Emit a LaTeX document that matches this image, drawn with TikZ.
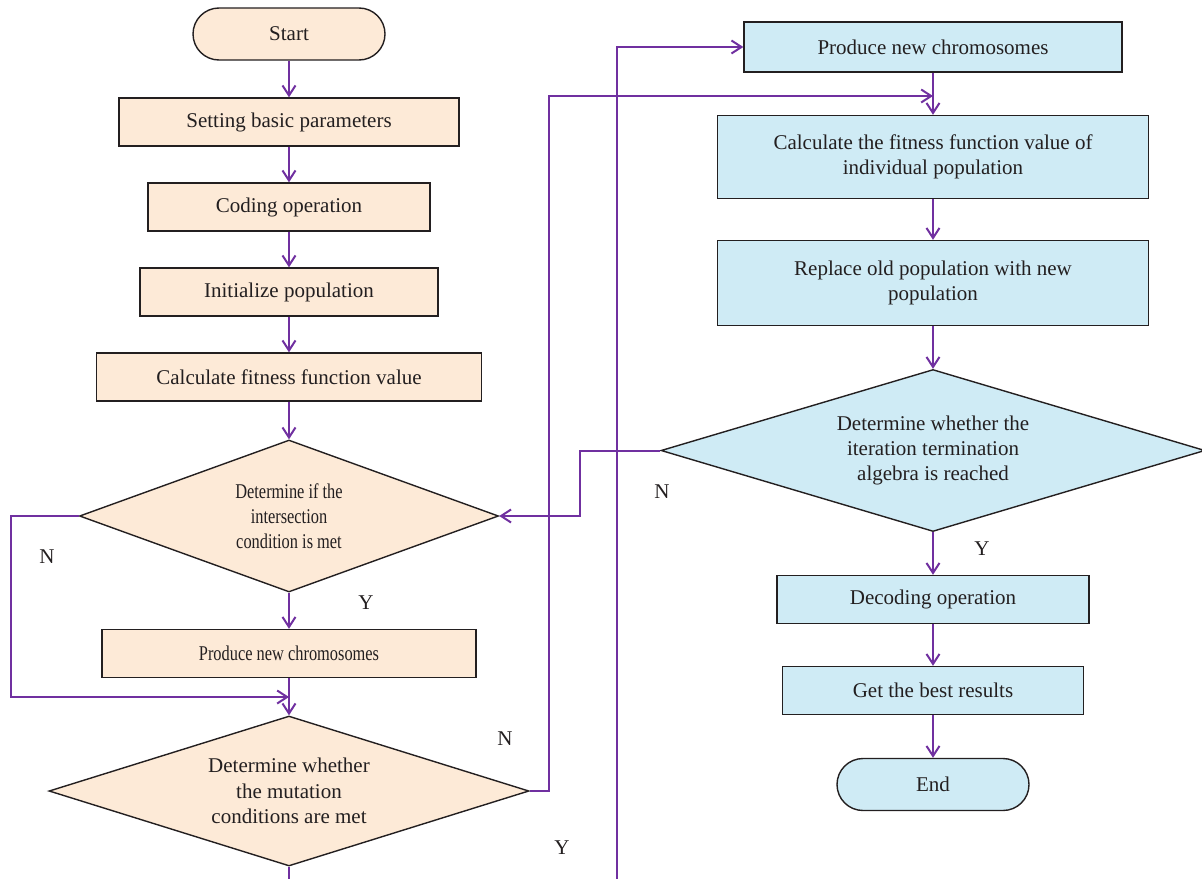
\documentclass[tikz,border=0pt]{standalone}
\usepackage{fontspec}
\setmainfont{Liberation Serif}
\usepackage{xcolor}
\usetikzlibrary{
    shapes.geometric,
    arrows.meta,
    positioning,
    calc
}
\definecolor{flowline}{HTML}{7030A0}
\definecolor{peach}{HTML}{FDEAD7}
\definecolor{skyfill}{HTML}{CFEBF5}
\definecolor{inkgray}{HTML}{231F20}
\newcommand{\narrow}[1]{\scalebox{0.78}[1]{#1}}

\begin{document}
\begin{tikzpicture}[x=0.5pt, y=-0.5pt,
    every node/.style={font=\fontsize{10.5}{12.6}\selectfont, text=inkgray},
    procbox/.style={draw=inkgray, line width=0.7pt, minimum height=24pt, inner sep=0pt},
    termbox/.style={draw=inkgray, line width=0.7pt, rounded corners=13pt, minimum width=96pt, minimum height=26pt},
    decbox/.style={draw=inkgray, line width=0.7pt, diamond, inner sep=0pt, align=center},
    flow/.style={draw=flowline, line width=1pt, -{Straight Barb[length=5pt,width=6.5pt]}},
    yn/.style={font=\fontsize{10.5}{12.6}\selectfont}
]
    \clip (0,0) rectangle (1202,878);

    % Left column
    \node[termbox, fill=peach] (start) at (289,34) {Start};
    \node[procbox, fill=peach, minimum width=170pt] (params) at (289,122) {Setting basic parameters};
    \node[procbox, fill=peach, minimum width=141pt] (coding) at (289,207) {Coding operation};
    \node[procbox, fill=peach, minimum width=149pt] (init) at (289,292) {Initialize population};
    \node[procbox, fill=peach, minimum width=192.5pt] (fitness) at (289,377) {Calculate fitness function value};
    \node[decbox, fill=peach, aspect=2.76, minimum width=209.5pt, minimum height=76pt] (cross) at (289,516)
        {\narrow{Determine if the}\\\narrow{intersection}\\\narrow{condition is met}};
    \node[procbox, fill=peach, minimum width=187pt] (newchromL) at (289,653.5) {\narrow{Produce new chromosomes}};
    \node[decbox, fill=peach, aspect=3.2, minimum width=240pt, minimum height=75pt] (mutate) at (289,791)
        {Determine whether\\the mutation\\conditions are met};

    % Right column
    \node[procbox, fill=skyfill, minimum width=189pt, minimum height=25pt] (newchromR) at (933,47) {Produce new chromosomes};
    \node[procbox, fill=skyfill, minimum width=215.5pt, minimum height=41.5pt, align=center] (fitindiv) at (933,157)
        {Calculate the fitness function value of\\individual population};
    \node[procbox, fill=skyfill, minimum width=215.5pt, minimum height=42.5pt, align=center] (replace) at (933,283)
        {Replace old population with new\\population};
    \node[decbox, fill=skyfill, aspect=3.36, minimum width=272pt, minimum height=81pt] (iterate) at (933,450.5)
        {Determine whether the\\iteration termination\\algebra is reached};
    \node[procbox, fill=skyfill, minimum width=156pt] (decode) at (933,599.5) {Decoding operation};
    \node[procbox, fill=skyfill, minimum width=150.5pt] (best) at (933,690.5) {Get the best results};
    \node[termbox, fill=skyfill] (stop) at (933,784.5) {End};

    % Merge points
    \coordinate (mergeL) at (289,697);
    \coordinate (mergeR) at (933,96);
    \coordinate (loopbot) at (617,910);

    % Straight flow
    \draw[flow] (start) -- (params);
    \draw[flow] (params) -- (coding);
    \draw[flow] (coding) -- (init);
    \draw[flow] (init) -- (fitness);
    \draw[flow] (fitness) -- (cross);
    \draw[flow] (cross) -- (newchromL);
    \draw[flow] (newchromL) -- (mutate);
    \draw[flow] (newchromR) -- (fitindiv);
    \draw[flow] (fitindiv) -- (replace);
    \draw[flow] (replace) -- (iterate);
    \draw[flow] (iterate) -- (decode);
    \draw[flow] (decode) -- (best);
    \draw[flow] (best) -- (stop);

    % Loops
    \draw[flow] (cross.west) -- ++(-68,0) |- (mergeL);
    \draw[flow] (mutate.east) -- ++(19,0) |- (mergeR);
    \draw[flow] (mutate.south) |- (loopbot) |- (newchromR.west);
    \draw[flow] (iterate.west) -- ++(-80,0) |- (cross.east);

    % Branch labels
    \node[yn] (nCross) at (47,557) {N};
    \node[yn] (yCross) at (366,603) {Y};
    \node[yn] (nMutate) at (505,739) {N};
    \node[yn] (yMutate) at (562,848) {Y};
    \node[yn] (nIterate) at (662,492) {N};
    \node[yn] (yIterate) at (982,549) {Y};
\end{tikzpicture}
\end{document}
